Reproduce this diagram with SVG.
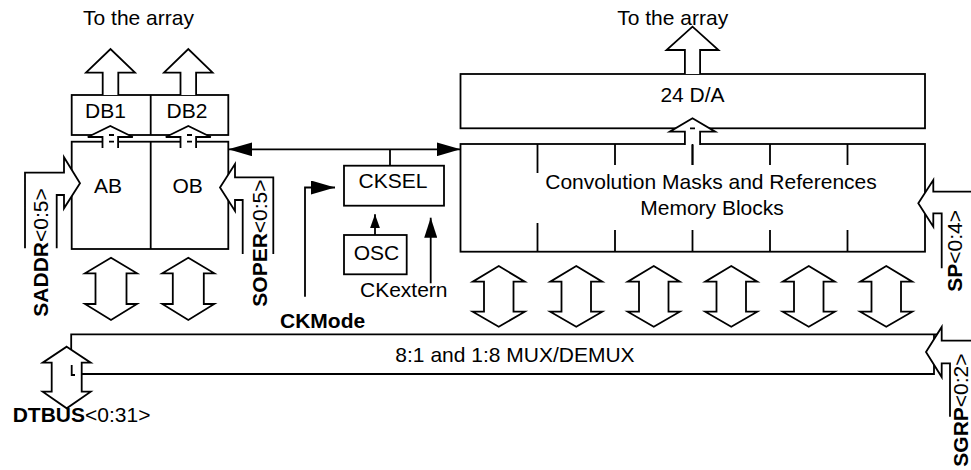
<svg xmlns="http://www.w3.org/2000/svg" width="971" height="470" viewBox="0 0 971 470">
<style>
text{font-family:"Liberation Sans",Arial,sans-serif;font-size:21px;fill:#000}
.c{text-anchor:middle}
.b{font-weight:bold}
.box{fill:#fff;stroke:#000;stroke-width:1.8}
.ln{fill:none;stroke:#000;stroke-width:1.8}
.ba{fill:#fff;stroke:#000;stroke-width:1.8;stroke-linejoin:miter}
.wf{fill:#fff;stroke:none}
</style>
<defs>
<marker id="ah" viewBox="0 0 24 14" markerWidth="24" markerHeight="14" markerUnits="userSpaceOnUse" refX="24" refY="7" orient="auto-start-reverse"><path d="M0,0 L24,7 L0,14 Z" fill="#000"/></marker>
<marker id="ah2" viewBox="0 0 20 13" markerWidth="20" markerHeight="13" markerUnits="userSpaceOnUse" refX="20" refY="6.5" orient="auto"><path d="M0,0 L20,6.5 L0,13 Z" fill="#000"/></marker>
<marker id="ah3" viewBox="0 0 14 10" markerWidth="14" markerHeight="10" markerUnits="userSpaceOnUse" refX="14" refY="5" orient="auto"><path d="M0,0 L14,5 L0,10 Z" fill="#000"/></marker>
<path id="dbl" d="M0,0 L26,15.7 L14.75,15.7 L14.75,45.7 L26,45.7 L0,60.7 L-26,45.7 L-14.75,45.7 L-14.75,15.7 L-26,15.7 Z"/>
<path id="dbl2" d="M0,0 L26,15.6 L15.5,15.6 L15.5,46.3 L26,46.3 L0,62.3 L-26,46.3 L-15.5,46.3 L-15.5,15.6 L-26,15.6 Z"/>
</defs>

<text class="c" x="138.5" y="25">To the array</text>
<text class="c" x="672.7" y="25">To the array</text>

<g id="DB">
<rect class="box" x="71.7" y="95" width="156.6" height="40"/>
<line class="ln" x1="150.7" y1="95" x2="150.7" y2="135"/>
<text class="c" x="105.5" y="118.3">DB1</text>
<text class="c" x="187" y="118.3">DB2</text>
</g>

<g id="ABOB">
<rect class="box" x="71.7" y="141.7" width="156.6" height="107.3"/>
<line class="ln" x1="150.7" y1="141.7" x2="150.7" y2="249"/>
<text class="c" x="108" y="193.3">AB</text>
<text class="c" x="187.7" y="193.3">OB</text>
</g>

<g id="DA">
<rect class="box" x="460.5" y="74" width="464.5" height="54.3"/>
<text class="c" x="692.5" y="101.7">24 D/A</text>
</g>

<g id="MEM">
<rect class="box" x="460.5" y="144" width="464.5" height="107.7"/>
<path class="ln" d="M537.5,144 V173 M615,144 V165 M692.5,144 V165 M770,144 V165 M847.5,144 V165 M537.5,223 V251.7 M615,230 V251.7 M692.5,230 V251.7 M770,230 V251.7 M847.5,230 V251.7"/>
<text class="c" x="711" y="189.3">Convolution Masks and References</text>
<text class="c" x="712" y="215">Memory Blocks</text>
</g>

<g id="CKSEL">
<rect class="box" x="344" y="165.7" width="100" height="40"/>
<text class="c" x="393" y="188.3">CKSEL</text>
</g>

<g id="OSC">
<rect class="box" x="344" y="235" width="62.7" height="39.3"/>
<text class="c" x="376.5" y="260">OSC</text>
</g>

<g id="MUX">
<path class="ln" d="M71.2,374 V334.3 H938 M81.7,374 H934 V334.3"/>
<text class="c" x="515" y="361.7">8:1 and 1:8 MUX/DEMUX</text>
</g>

<g id="connectors">
<!-- up arrows to the array -->
<polyline class="ba" points="102.7,95 102.7,72.7 86,72.7 110.5,49 135,72.7 118.3,72.7 118.3,95"/>
<polyline class="ba" points="180.5,95 180.5,72.7 164,72.7 188.3,49 212.6,72.7 196.1,72.7 196.1,95"/>
<polyline class="ba" points="684.9,74 684.9,50 666.5,50 692.5,26.7 718.5,50 700.1,50 700.1,74"/>
<!-- small arrows -->
<polyline class="ba" points="102.5,148 102.5,137 87.8,137 110.3,126 132.8,137 118.1,137 118.1,148"/>
<polyline class="ba" points="180.5,148 180.5,137 165.8,137 188.3,126 210.8,137 196.1,137 196.1,148"/>
<polyline class="ba" points="684.9,145 684.9,131.7 669.8,131.7 692.5,118.3 715.2,131.7 700.1,131.7 700.1,145"/>
<path class="ln" d="M109,135 h5 M109,141.7 h5 M187,135 h5 M187,141.7 h5 M690,128.3 h5"/>
<line class="ln" x1="692.5" y1="144" x2="692.5" y2="165"/>
<!-- bidirectional arrows -->
<use href="#dbl2" class="ba" transform="translate(111,257.7)"/>
<use href="#dbl2" class="ba" transform="translate(188.3,257.7)"/>
<use href="#dbl" class="ba" transform="translate(498.75,266)"/>
<use href="#dbl" class="ba" transform="translate(576.25,266)"/>
<use href="#dbl" class="ba" transform="translate(653.75,266)"/>
<use href="#dbl" class="ba" transform="translate(731.25,266)"/>
<use href="#dbl" class="ba" transform="translate(808.75,266)"/>
<use href="#dbl" class="ba" transform="translate(886.25,266)"/>
<!-- DTBUS arrow -->
<path class="ba" d="M66.7,346.7 L90.7,362.7 L81.7,362.7 L81.7,391.7 L90.7,391.7 L66.7,408.3 L42.7,391.7 L51.7,391.7 L51.7,362.7 L42.7,362.7 Z"/>
<path class="ln" d="M71.7,365 V375 H75" stroke-width="1.4"/>
<!-- SADDR input -->
<polygon class="wf" points="64,157.3 80,183.3 64,208.3"/>
<polyline class="ln" points="25,248.3 25,172.7 64,172.7 64,157.3 80,183.3 64,208.3 64,195 56.7,195 56.7,248.3"/>
<!-- SOPER input -->
<polygon class="wf" points="235,164 220,187.5 235,211"/>
<polyline class="ln" points="273.3,254 273.3,177.3 235,177.3 235,164 220,187.5 235,211 235,200 242.7,200 242.7,254"/>
<!-- SP input -->
<polygon class="wf" points="933.3,180 918.3,203.3 933.3,226.7"/>
<polyline class="ln" points="971,191.7 933.3,191.7 933.3,180 918.3,203.3 933.3,226.7 933.3,213.3 941.7,213.3 941.7,268.3"/>
<!-- SGRP input -->
<polygon class="wf" points="941.7,327 926,352 941.7,377"/>
<polyline class="ln" points="971,340.7 941.7,340.7 941.7,327 926,352 941.7,377 941.7,363.3 950,363.3 950,416.7"/>
<!-- clock bus -->
<line class="ln" x1="228.3" y1="149.3" x2="460.5" y2="149.3" marker-start="url(#ah)" marker-end="url(#ah)"/>
<line class="ln" x1="390" y1="149.3" x2="390" y2="165.7"/>
<path class="ln" d="M305,296.7 V187.5 H335" marker-end="url(#ah)"/>
<line class="ln" x1="375" y1="235" x2="375" y2="214.3" marker-end="url(#ah3)"/>
<line class="ln" x1="430.7" y1="283.3" x2="430.7" y2="217.7" marker-end="url(#ah2)"/>
</g>

<text x="360" y="296.7">CKextern</text>
<text class="b" x="280" y="328.3">CKMode</text>
<text x="12.7" y="421.7"><tspan class="b">DTBUS</tspan>&lt;0:31&gt;</text>
<text transform="translate(48.3,316.7) rotate(-90)"><tspan class="b">SADDR</tspan>&lt;0:5&gt;</text>
<text transform="translate(267,306.7) rotate(-90)"><tspan class="b">SOPER</tspan>&lt;0:5&gt;</text>
<text transform="translate(962,291.7) rotate(-90)"><tspan class="b">SP</tspan>&lt;0:4&gt;</text>
<text transform="translate(968,466.7) rotate(-90)"><tspan class="b">SGRP</tspan>&lt;0:2&gt;</text>
</svg>
